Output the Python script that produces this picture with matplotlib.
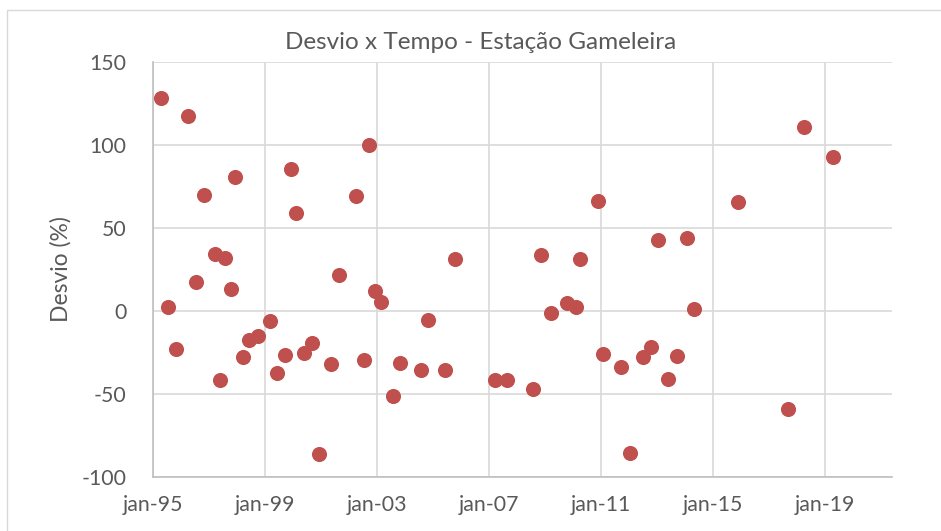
import matplotlib
matplotlib.use('Agg')
import matplotlib.pyplot as plt
from matplotlib.patches import Rectangle

# data (x in decimal years, y = desvio %)
anos = [1995.27, 1995.55, 1995.82, 1996.24, 1996.54, 1996.81, 1997.22, 1997.39,
        1997.57, 1997.80, 1997.94, 1998.23, 1998.42, 1998.74, 1999.19, 1999.42,
        1999.71, 1999.93, 2000.12, 2000.40, 2000.69, 2000.92, 2001.35, 2001.66,
        2002.26, 2002.53, 2002.73, 2002.95, 2003.16, 2003.59, 2003.82, 2004.57,
        2004.83, 2005.44, 2005.78, 2007.22, 2007.65, 2008.57, 2008.87, 2009.24,
        2009.81, 2010.10, 2010.27, 2010.89, 2011.09, 2011.72, 2012.05, 2012.52,
        2012.80, 2013.05, 2013.42, 2013.72, 2014.08, 2014.34, 2015.90, 2017.71,
        2018.27, 2019.29]
desvio = [128.3, 2.2, -23.3, 117.1, 17.1, 69.7, 34.2, -41.9,
          31.6, 13.1, 80.5, -27.9, -17.6, -15.0, -6.0, -37.3,
          -26.9, 85.2, 59.0, -25.5, -19.3, -86.3, -32.3, 21.7,
          69.1, -29.7, 100.0, 11.9, 5.4, -51.2, -31.5, -35.7,
          -5.6, -35.5, 31.0, -41.9, -41.7, -47.4, 33.4, -1.2,
          4.6, 2.0, 31.1, 66.3, -25.9, -33.7, -85.7, -27.7,
          -21.7, 42.8, -41.3, -27.3, 44.0, 1.0, 65.5, -59.4,
          110.9, 92.6]

tick_anos = [1995, 1999, 2003, 2007, 2011, 2015, 2019]
tick_labels = ['jan-95', 'jan-99', 'jan-03', 'jan-07', 'jan-11', 'jan-15', 'jan-19']

plt.rcParams['font.family'] = ['Lato', 'DejaVu Sans']
plt.rcParams['axes.unicode_minus'] = False
cinza = '#595959'

fig = plt.figure(figsize=(9.41, 5.31), dpi=100)
# chart border like the excel frame
fig.patches.append(Rectangle((7 / 941, -0.05), 1.1, 1 - 10 / 531 + 0.05,
                             transform=fig.transFigure, fill=False,
                             edgecolor='#D9D9D9', linewidth=1))

ax = fig.add_axes([0.1626, 0.1022, 0.785, 0.7816])
ax.scatter(anos, desvio, s=118, color='#C0504D', zorder=3, linewidths=0)

ax.set_xlim(1995, 2021.4)
ax.set_ylim(-100, 150)
ax.set_xticks(tick_anos)
ax.set_xticklabels(tick_labels)
ax.set_yticks([-100, -50, 0, 50, 100, 150])

ax.grid(True, color='#D9D9D9', linewidth=1.2)
ax.set_axisbelow(True)
for s in ['top', 'right']:
    ax.spines[s].set_visible(False)
for s in ['left', 'bottom']:
    ax.spines[s].set_color('#BFBFBF')
    ax.spines[s].set_linewidth(1.2)
ax.tick_params(length=0, labelsize=15.3, colors=cinza)
ax.tick_params(axis='y', pad=19)
ax.tick_params(axis='x', pad=13)

ax.set_ylabel('Desvio (%)', fontsize=16.5, color=cinza, labelpad=7.5)
# title is centred on the whole chart frame, not on the plot area
ax.set_title('Desvio x Tempo - Estação Gameleira', fontsize=17.5, color=cinza,
             pad=9, x=0.443)

fig.savefig('out.png', dpi=100)
